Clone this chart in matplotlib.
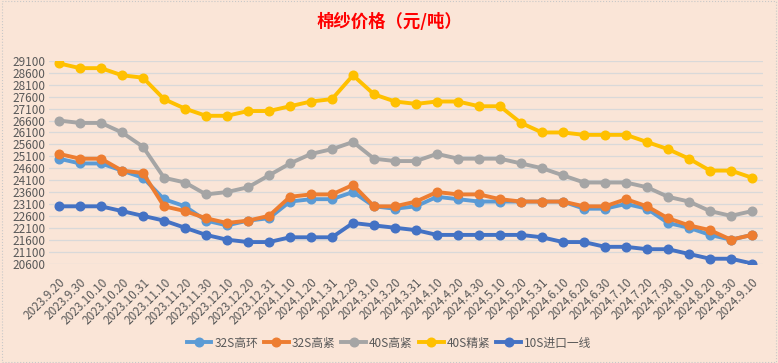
import numpy as np
import matplotlib
matplotlib.use("Agg")
from matplotlib import pyplot as plt
from matplotlib.patches import Rectangle

plt.rcParams['font.family'] = ['Noto Sans CJK SC', 'DejaVu Sans']

# dates (categories)
dates = ["2023.9.20", "2023.9.30", "2023.10.10", "2023.10.20", "2023.10.31",
         "2023.11.10", "2023.11.20", "2023.11.30", "2023.12.10", "2023.12.20",
         "2023.12.31", "2024.1.10", "2024.1.20", "2024.1.31", "2024.2.29",
         "2024.3.10", "2024.3.20", "2024.3.31", "2024.4.10", "2024.4.20",
         "2024.4.30", "2024.5.10", "2024.5.20", "2024.5.31", "2024.6.10",
         "2024.6.20", "2024.6.30", "2024.7.10", "2024.7.20", "2024.7.30",
         "2024.8.10", "2024.8.20", "2024.8.30", "2024.9.10"]

s32_gaohuan = [25000, 24800, 24800, 24500, 24200, 23300, 23000, 22400, 22200, 22400,
               22500, 23200, 23300, 23300, 23600, 23000, 22900, 23000, 23400, 23300,
               23200, 23200, 23200, 23200, 23200, 22900, 22900, 23100, 22900, 22300,
               22100, 21800, 21600, 21800]
s32_gaojin = [25200, 25000, 25000, 24500, 24400, 23000, 22800, 22500, 22300, 22400,
              22600, 23400, 23500, 23500, 23900, 23000, 23000, 23200, 23600, 23500,
              23500, 23300, 23200, 23200, 23200, 23000, 23000, 23300, 23000, 22500,
              22200, 22000, 21600, 21800]
s40_gaojin = [26600, 26500, 26500, 26100, 25500, 24200, 24000, 23500, 23600, 23800,
              24300, 24800, 25200, 25400, 25700, 25000, 24900, 24900, 25200, 25000,
              25000, 25000, 24800, 24600, 24300, 24000, 24000, 24000, 23800, 23400,
              23200, 22800, 22600, 22800]
s40_jingjin = [29000, 28800, 28800, 28500, 28400, 27500, 27100, 26800, 26800, 27000,
               27000, 27200, 27400, 27500, 28500, 27700, 27400, 27300, 27400, 27400,
               27200, 27200, 26500, 26100, 26100, 26000, 26000, 26000, 25700, 25400,
               25000, 24500, 24500, 24200]
s10_jinkou = [23000, 23000, 23000, 22800, 22600, 22400, 22100, 21800, 21600, 21500,
              21500, 21700, 21700, 21700, 22300, 22200, 22100, 22000, 21800, 21800,
              21800, 21800, 21800, 21700, 21500, 21500, 21300, 21300, 21200, 21200,
              21000, 20800, 20800, 20600]

names = ["32S高环", "32S高紧", "40S高紧", "40S精紧", "10S进口一线"]
colors = ["#5B9BD5", "#ED7D31", "#A5A5A5", "#FFC000", "#4472C4"]
series = [s32_gaohuan, s32_gaojin, s40_gaojin, s40_jingjin, s10_jinkou]

bg = "#FAE5D7"
fig = plt.figure(figsize=(7.78, 3.63), dpi=100, facecolor=bg)
ax = fig.add_axes([48.5 / 778, 1 - 263.5 / 363, 714 / 778, 202.5 / 363])
ax.set_facecolor(bg)

x = np.arange(len(dates))
for vals, name, c in zip(series, names, colors):
    ax.plot(x, vals, color=c, lw=2.8, marker="o", ms=6.2, label=name)

ax.set_xlim(-0.5, len(dates) - 0.5)
ax.set_ylim(20600, 29100)
ax.set_yticks(np.arange(20600, 29101, 500))
ax.grid(axis="y", color="#D9D9D9", lw=0.9)
ax.set_axisbelow(True)
for sp in ax.spines.values():
    sp.set_visible(False)
ax.tick_params(length=0, colors="#595959", labelsize=8.5)
ax.tick_params(axis="y", pad=2)
ax.tick_params(axis="x", pad=9)
ax.set_xticks(x)
ax.set_xticklabels(dates, rotation=45, ha="right", rotation_mode="anchor", fontsize=8.5)

fig.text(0.5, 1 - 22 / 363, "棉纱价格（元/吨）", color="red", fontsize=12.5,
         fontweight="bold", ha="center", va="center")

fig.legend(loc="center", bbox_to_anchor=(0.5, 1 - 343 / 363), ncol=5, frameon=False,
           fontsize=8.5, handlelength=2.1, columnspacing=0.5, handletextpad=0.25,
           labelcolor="#595959")

fig.patches.append(Rectangle((0.002, 0.003), 0.996, 0.994, transform=fig.transFigure,
                             fill=False, ec="#C8C8C8", lw=0.8, ls=":"))

fig.savefig("out.png", dpi=100, facecolor=bg)
